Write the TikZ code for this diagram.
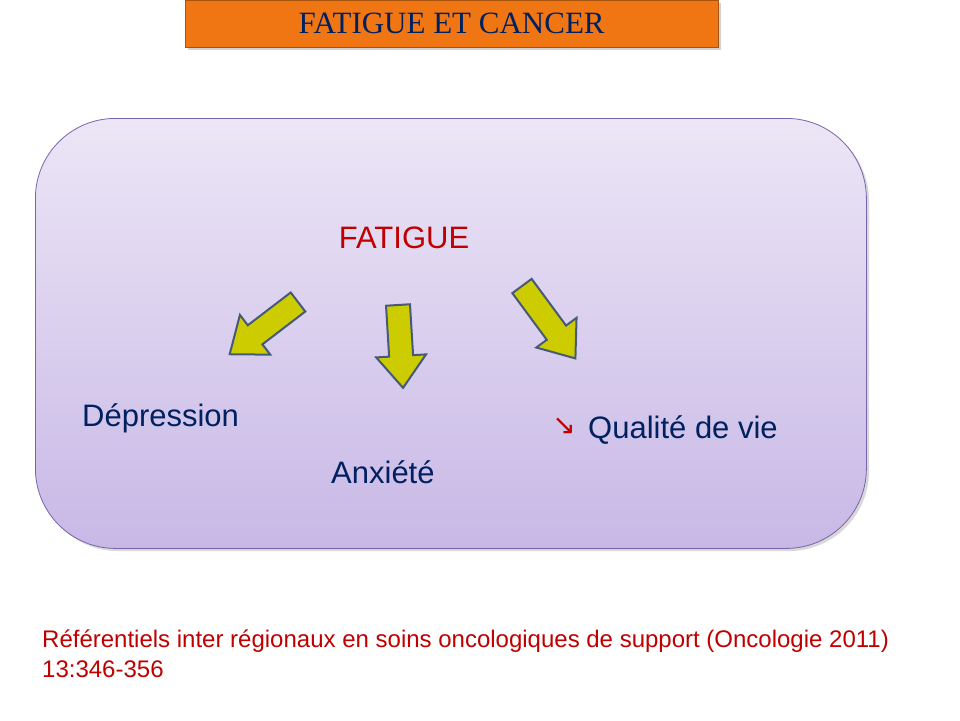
\documentclass[tikz,border=0pt]{standalone}
\usepackage{fontspec}
\setmainfont{Liberation Sans}
\newfontfamily\titlefont{Liberation Serif}
\usetikzlibrary{shadows}
\definecolor{navy}{RGB}{0,32,96}
\definecolor{dred}{RGB}{192,0,0}
\definecolor{orng}{RGB}{240,118,20}
\definecolor{lavtop}{RGB}{236,230,246}
\definecolor{lavbot}{RGB}{200,184,230}
\definecolor{boxedge}{RGB}{120,100,170}
\definecolor{arrfill}{RGB}{204,204,0}
\definecolor{arredge}{RGB}{70,90,120}
\tikzset{
  lbl/.style={font=\fontsize{31}{34}\selectfont, text=navy, inner sep=0pt},
  bigarrow/.style={fill=arrfill, draw=arredge, line width=2pt, line join=miter},
}
\newcommand{\fatarrow}[4]{% x y angle length
  \draw[bigarrow, shift={(#1,#2)}, rotate=#3]
    (0,-12) -- (#4-32,-12) -- (#4-32,-25) -- (#4,0) -- (#4-32,25) -- (#4-32,12) -- (0,12) -- cycle;}
\begin{document}
\begin{tikzpicture}[x=1pt,y=-1pt]
\useasboundingbox[fill=white] (0,0) rectangle (960,720);
\node[fill=orng, draw=orng!70!black, drop shadow={opacity=0.35}, minimum width=533, minimum height=47, anchor=north west, inner sep=0pt] (title) at (185,0) {};
\node[font=\titlefont\fontsize{31}{34}\selectfont, text=navy] at (title.center) {FATIGUE ET CANCER};
\node[rounded corners=80pt, top color=lavtop, bottom color=lavbot, draw=boxedge, line width=0.8pt, drop shadow={opacity=0.3}, minimum width=831, minimum height=430, anchor=north west] (box) at (35,118) {};
\node[font=\fontsize{31}{34}\selectfont, text=dred, inner sep=0pt] (fat) at (404,238) {FATIGUE};
\fatarrow{298}{302}{-142.6}{86}
\fatarrow{398}{305}{-86.5}{83}
\fatarrow{522}{286}{-53.6}{90}
\node[lbl, anchor=west] (dep) at (82,418) {Dépression};
\node[lbl, anchor=west] (anx) at (331,472) {Anxiété};
\node[font=\fontsize{28}{30}\selectfont, text=dred, inner sep=0pt] (dn) at (564,426) {\fontspec{DejaVu Sans}↘};
\node[lbl, anchor=west] (qv) at (588,430) {Qualité de vie};
\node[font=\fontsize{24}{30}\selectfont, text=dred, anchor=north west, align=left, inner sep=0pt] (ref) at (42,630)
 {Référentiels inter régionaux en soins oncologiques de support (Oncologie 2011)\\13:346-356};
\end{tikzpicture}
\end{document}
